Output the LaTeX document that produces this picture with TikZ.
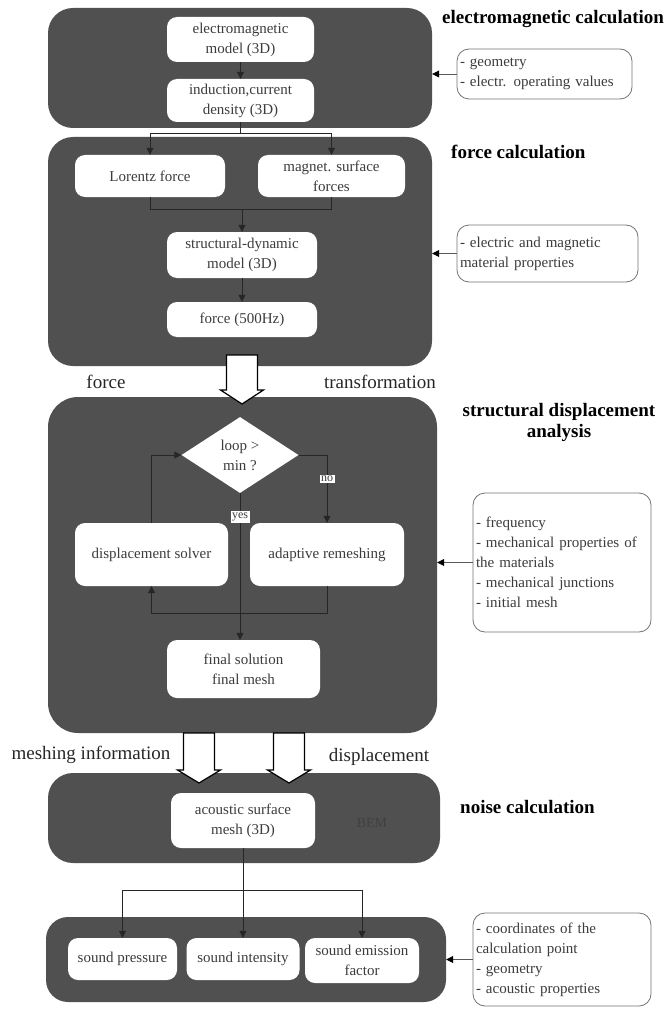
\documentclass[tikz,border=0pt]{standalone}
\usepackage{fontspec}
\setmainfont{Liberation Serif}
\usetikzlibrary{arrows.meta,shapes.geometric,calc}
\definecolor{panelgray}{HTML}{505050}
\definecolor{txtgray}{HTML}{3c3c3c}
\tikzset{
  panel/.style={fill=panelgray, draw=none, rounded corners=25pt, inner sep=0pt},
  ibox/.style={fill=white, draw=none, rounded corners=10pt, align=center, inner sep=0pt,
    font=\fontsize{15}{20}\selectfont, text=txtgray},
  inbox/.style={fill=white, draw=black!55, line width=0.8pt, rounded corners=12pt, align=left,
    inner xsep=3pt, inner ysep=0pt, font=\fontsize{15}{20}\selectfont, text=txtgray},
  title/.style={font=\bfseries\fontsize{19}{22}\selectfont, align=center, inner sep=0pt},
  lbl/.style={font=\fontsize{19}{22}\selectfont, inner sep=0pt, text=black!85},
  yn/.style={fill=white, inner sep=1.5pt, font=\fontsize{12}{14}\selectfont, text=txtgray},
  conn/.style={draw=black!85, line width=0.6pt},
  arr/.style={conn, -{Triangle[length=7pt,width=7pt]}},
  inarr/.style={draw=black!65, line width=0.8pt, -{Triangle[length=7pt,width=7pt,color=black]}},
  hollow/.style={draw=black, line width=1.2pt, fill=white}
}
\begin{document}
\begin{tikzpicture}[x=1pt,y=-1pt]
\useasboundingbox (0,0) rectangle (670,1011);
% panels
\node[panel, minimum width=384pt, minimum height=120pt] (p1) at (240,68) {};
\node[panel, minimum width=384pt, minimum height=229pt] (p2) at (240,251.5) {};
\node[panel, minimum width=389pt, minimum height=336pt, rounded corners=30pt] (p3) at (242.5,565) {};
\node[panel, minimum width=392pt, minimum height=90pt] (p4) at (244,818) {};
\node[panel, minimum width=400pt, minimum height=85pt, rounded corners=22pt] (p5) at (246,959.5) {};
% titles and labels
\node[title, anchor=west] (t1) at (442,19) {electromagnetic calculation};
\node[title, anchor=west] (t2) at (451,152) {force calculation};
\node[title, font=\bfseries\fontsize{19}{21}\selectfont] (t3) at (559,422) {structural displacement\\analysis};
\node[title, anchor=west] (t4) at (460,807) {noise calculation};
\node[lbl] (lforce) at (106,382) {force};
\node[lbl] (ltrans) at (380,382) {transformation};
\node[lbl] (lmesh) at (91,755) {meshing information};
\node[lbl] (ldisp) at (379,757) {displacement};
\node[font=\fontsize{14}{16}\selectfont, text=black!75] (bem) at (372,823) {BEM};
% input boxes
\node[inbox, text width=169pt, minimum height=50pt] (in1) at (544.5,74) {- geometry\\- electr. operating values};
\node[inbox, text width=175pt, minimum height=57pt] (in2) at (547.5,253.5) {- electric and magnetic\\material properties};
\node[inbox, text width=172pt, minimum height=139pt] (in3) at (562,562.5) {- frequency\\- mechanical properties of\\the materials\\- mechanical junctions\\- initial mesh};
\node[inbox, text width=172pt, minimum height=93pt] (in5) at (562,959.5) {- coordinates of the\\calculation point\\- geometry\\- acoustic properties};
\draw[inarr] (in1.west) -- (p1.east |- in1.west);
\draw[inarr] (in2.west) -- (p2.east |- in2.west);
\draw[inarr] (in3.west) -- (p3.east |- in3.west);
\draw[inarr] (in5.west) -- (p5.east |- in5.west);
% inner boxes
\node[ibox, minimum width=147pt, minimum height=45pt] (em) at (240.5,39.5) {electromagnetic\\model (3D)};
\node[ibox, minimum width=147pt, minimum height=43pt] (ind) at (240.5,100.5) {induction,current\\density (3D)};
\node[ibox, minimum width=150pt, minimum height=42pt] (lor) at (150,176) {Lorentz force};
\node[ibox, minimum width=147pt, minimum height=42pt] (mag) at (331.5,176) {magnet. surface\\forces};
\node[ibox, minimum width=150pt, minimum height=46pt] (sdm) at (242,255) {structural-dynamic\\model (3D)};
\node[ibox, minimum width=150pt, minimum height=35pt] (frc) at (242,319.5) {force (500Hz)};
\node[diamond, fill=white, aspect=1.54, minimum width=117pt, minimum height=76pt, inner sep=0pt,
  align=center, font=\fontsize{15}{20}\selectfont, text=txtgray] (dia) at (240,455) {loop >\\min ?};
\node[ibox, minimum width=153pt, minimum height=63pt] (ds) at (151.5,554.5) {displacement solver};
\node[ibox, minimum width=154pt, minimum height=63pt] (ar) at (327,554.5) {adaptive remeshing};
\node[ibox, minimum width=153pt, minimum height=58pt] (fin) at (243.5,669) {final solution\\final mesh};
\node[ibox, minimum width=144pt, minimum height=55pt] (acm) at (243,820.5) {acoustic surface\\mesh (3D)};
\node[ibox, minimum width=109pt, minimum height=42pt] (sp) at (122.5,959) {sound pressure};
\node[ibox, minimum width=113pt, minimum height=42pt] (si) at (243,959) {sound intensity};
\node[ibox, minimum width=114pt, minimum height=45pt] (sef) at (362,960.5) {sound emission\\factor};
% connectors
\draw[arr] (em) -- (ind);
\coordinate (j1) at (240.5,133);
\draw[conn] (ind.south) -- (j1);
\draw[arr] (j1) -| (lor.north);
\draw[arr] (j1) -| (mag.north);
\coordinate (j2) at (242,209);
\draw[conn] (lor.south) |- (j2);
\draw[conn] (mag.south) |- (j2);
\draw[arr] (j2) -- (sdm.north);
\draw[arr] (sdm) -- (frc);
\draw[arr] (ds.north) |- (dia.west);
\draw[arr] (dia.south) -- (dia.south |- fin.north);
\draw[arr] (dia.east) -| (ar.north);
\draw[arr] (ar.south) -- ++(0,27) -| (ds.south);
\node[yn] (yes) at (240,517) {yes};
\node[yn] (no) at (327,479) {no};
\coordinate (j3) at (243,890);
\draw[conn] (acm.south) -- (j3);
\draw[arr] (j3) -| (sp.north);
\draw[arr] (j3) -- (si.north);
\draw[arr] (j3) -| (sef.north);
% hollow transfer arrows
\draw[hollow] (226.5,355) -- (226.5,390) -- (220.5,390) -- (242,404) -- (263.5,390) -- (257.5,390) -- (257.5,355) -- cycle;
\draw[hollow] (183.5,733) -- (183.5,770) -- (177.5,770) -- (199,783) -- (220.5,770) -- (214.5,770) -- (214.5,733) -- cycle;
\draw[hollow] (273.5,733) -- (273.5,770) -- (267.5,770) -- (289,783) -- (310.5,770) -- (304.5,770) -- (304.5,733) -- cycle;
\end{tikzpicture}
\end{document}
